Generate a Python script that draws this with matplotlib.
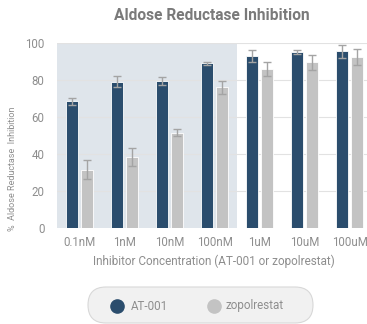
import matplotlib
matplotlib.use("Agg")
import matplotlib.pyplot as plt
from matplotlib.lines import Line2D
from matplotlib.patches import FancyBboxPatch
import numpy as np

plt.rcParams['font.family'] = ['Roboto', 'DejaVu Sans']

concentrations = ["0.1nM", "1nM", "10nM", "100nM", "1uM", "10uM", "100uM"]
at001_mean = [68.5, 79, 79.5, 89, 93, 95, 95.5]
at001_err = [2, 3, 2, 1, 3, 1.2, 3.5]
zopol_mean = [31.5, 38.5, 51.5, 76, 86, 89.5, 92.5]
zopol_err = [5, 5, 2, 3.5, 4, 4, 4.5]
series_names = ["AT-001", "zopolrestat"]

dark = "#2b4d6d"
light = "#c3c3c3"
text_grey = "#8e8e8e"

W, H = 367, 324
fig = plt.figure(figsize=(W / 100, H / 100), dpi=100)
ax = fig.add_axes([57 / W, 96 / H, 315 / W, 185 / H])


def fx(px):
    return px / W


def fy(py):
    return 1 - py / H


x = np.arange(len(concentrations))
w = 0.27
off = 0.165

# shaded band behind the nanomolar concentrations
ax.axvspan(-0.5, 3.5, ymin=0, ymax=1, color="#dfe5eb", zorder=0, lw=0)
for yv in [20, 40, 60, 80, 100]:
    ax.axhline(yv, color="#e2e2e2", lw=0.8, zorder=0.5)

err_kw = dict(ecolor="#a4a4a4", elinewidth=1.0, capsize=3, capthick=1.0)
ax.bar(x - off, at001_mean, w, yerr=at001_err, color=dark, edgecolor="white",
       linewidth=0.6, error_kw=err_kw, zorder=2)
ax.bar(x + off, zopol_mean, w, yerr=zopol_err, color=light, edgecolor="white",
       linewidth=0.6, error_kw=err_kw, zorder=2)

ax.set_xlim(-0.5, len(concentrations) - 0.5)
ax.set_ylim(0, 100)
ax.set_yticks([0, 20, 40, 60, 80, 100])
ax.set_xticks(x)
ax.set_xticklabels(concentrations)
ax.tick_params(axis="both", length=0, colors=text_grey, labelsize=8.3)
ax.tick_params(axis="x", pad=6)
ax.tick_params(axis="y", pad=9)
for s in ax.spines.values():
    s.set_visible(False)

fig.text(fx(214), fy(261), "Inhibitor Concentration (AT-001 or zopolrestat)",
         ha="center", va="center", fontsize=8.5, color=text_grey)
fig.text(fx(13), fy(169), "%  Aldose Reductase  Inhibition", rotation=90,
         ha="center", va="center", fontsize=6.5, color=text_grey)
fig.text(fx(212), fy(16), "Aldose Reductase Inhibition", ha="center",
         va="center", fontsize=11.2, fontweight="bold", color="#7a7a7a")

# pill-shaped legend, laid out in inches (1 px = 0.01 in)
pill = FancyBboxPatch((0.88, (H - 323) / 100), 2.25, 0.36,
                      boxstyle="round,pad=0,rounding_size=0.18",
                      transform=fig.dpi_scale_trans, facecolor="#f1f1f1",
                      edgecolor="#d8d8d8", linewidth=0.8)
fig.add_artist(pill)
for cx, tx, col, name in [(117, 131, dark, series_names[0]),
                          (214, 226, light, series_names[1])]:
    fig.add_artist(Line2D([fx(cx)], [fy(306)], marker="o", ls="none",
                          markersize=9.5, color=col, transform=fig.transFigure))
    fig.text(fx(tx), fy(306), name, ha="left", va="center", fontsize=8.4,
             color=text_grey)

fig.savefig("out.png", dpi=100)
